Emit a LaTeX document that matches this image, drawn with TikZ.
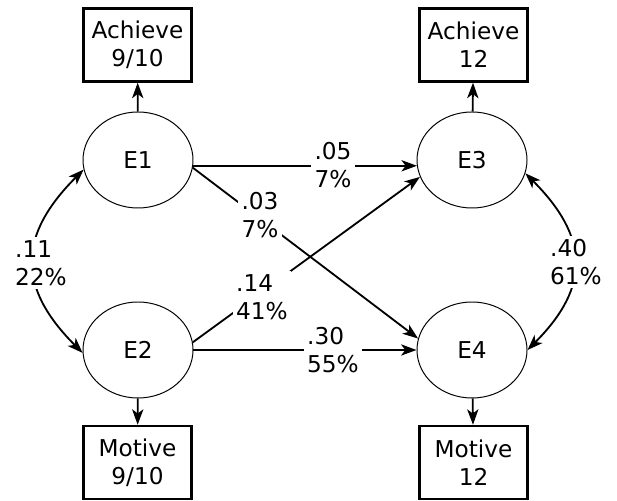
\documentclass[tikz,border=0pt]{standalone}
\usepackage{fontspec}
\setmainfont{DejaVu Sans}
\usetikzlibrary{arrows.meta,shapes.geometric}
\begin{document}
\begin{tikzpicture}[x=.25mm,y=.25mm,font=\fontsize{16.5}{20}\selectfont,
  latent/.style={draw,ellipse,line width=.7pt,minimum width=2.75cm,minimum height=2.4cm,inner sep=0pt},
  obs/.style={draw,rectangle,line width=1.6pt,minimum width=2.7cm,minimum height=1.83cm,inner sep=0pt,align=center},
  coef/.style={fill=white,align=left,inner sep=2.5pt},
  eff/.style={line width=1.3pt,-{Stealth[length=11pt,width=8pt,inset=3pt]}},
  cov/.style={line width=1.3pt,{Stealth[length=11pt,width=8pt,inset=3pt]}-{Stealth[length=11pt,width=8pt,inset=3pt]}}]
  \useasboundingbox (0,0) rectangle (617,500);
  \node[latent] (E1) at (138,340) {E1};
  \node[latent] (E2) at (138,150) {E2};
  \node[latent] (E3) at (472,340) {E3};
  \node[latent] (E4) at (472,150) {E4};
  \node[obs] (A1) at (137.5,455) {Achieve\\9/10};
  \node[obs] (M1) at (137.5,37.5) {Motive\\9/10};
  \node[obs] (A2) at (473.5,455) {Achieve\\12};
  \node[obs] (M2) at (473.5,37.5) {Motive\\12};

  \draw[eff] (E1) -- (A1);
  \draw[eff] (E3) -- (A2);
  \draw[eff] (E2) -- (M1);
  \draw[eff] (E4) -- (M2);
  \draw[eff] (E1.-6) -- (E3.186);
  \draw[eff] (E1.-8) -- (E4.168);
  \draw[eff] (E2.8) -- (E3.198);
  \draw[eff] (E2.east) -- (E4.west);
  \draw[cov] (E1.190) to[out=225,in=135,looseness=1.3] (E2.183);
  \draw[cov] (E3.346) to[out=-45,in=45,looseness=1.3] (E4.0);

  \node[coef] (c13) at (333,335) {.05\\7\%};
  \node[coef] (c14) at (260,285) {.03\\7\%};
  \node[coef] (c23) at (262,203) {.14\\41\%};
  \node[coef] (c24) at (333,150) {.30\\55\%};
  \node[coef] (c12) at (41,237) {.11\\22\%};
  \node[coef] (c34) at (576,238) {.40\\61\%};
\end{tikzpicture}
\end{document}
